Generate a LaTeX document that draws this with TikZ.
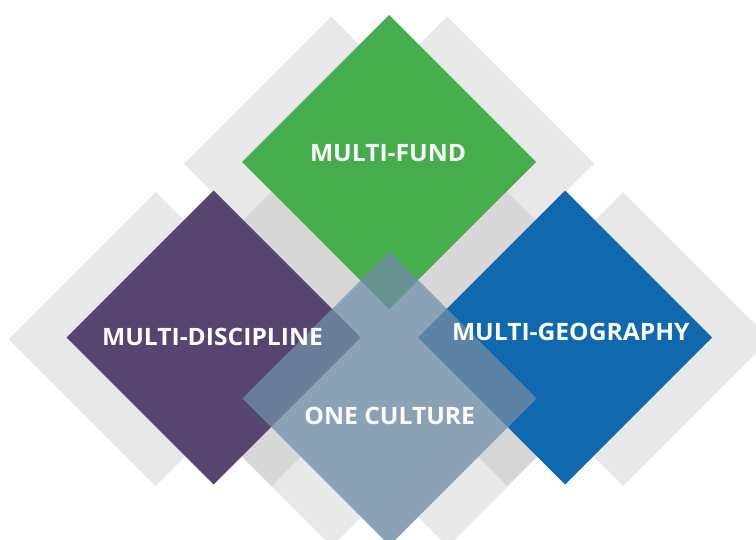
\documentclass[tikz,border=0pt]{standalone}
\usepackage{fontspec}
\setmainfont{Open Sans}
\newfontfamily\labelfont[FakeStretch=1.03]{Open Sans}
\definecolor{fundgreen}{HTML}{45AD4C}
\definecolor{discpurple}{HTML}{56456F}
\definecolor{geoblue}{HTML}{1068AF}
\definecolor{cultureblue}{RGB}{110,138,163}
\definecolor{ghostlight}{HTML}{E8E8E8}
\definecolor{ghostdark}{HTML}{D7D7D7}
% outline of a square tile standing on its corner: centre (#1,#2), half-diagonal 147
\newcommand{\tileoutline}[2]{(#1,#2-147) -- (#1+147,#2) -- (#1,#2+147) -- (#1-147,#2) -- cycle}
\newcommand{\tile}[3]{\fill[#3] \tileoutline{#1}{#2};}
% centres of the grey ghosts (each tile has one 58 units to either side)
\newcommand{\ghostlist}{331/163.5, 447/163.5, 155.5/339, 271.5/339, 507/339, 623/339, 331.5/399.5, 447.5/399.5}
\tikzset{
  tilelabel/.style={text=white, font=\labelfont\fontsize{24}{27}\selectfont\bfseries, inner sep=0pt, anchor=center},
}
\begin{document}
\begin{tikzpicture}[x=1bp, y=-1bp]
\useasboundingbox (0,0) rectangle (756,540);
\fill[white] (0,0) rectangle (756,540);
% grey ghost tiles
\foreach \gx/\gy in \ghostlist { \tile{\gx}{\gy}{ghostlight} }
% where two ghosts overlap the grey is deeper
\foreach \ax/\ay [count=\i] in \ghostlist {
  \foreach \bx/\by [count=\j] in \ghostlist {
    \ifnum\j>\i\relax
      \begin{scope}
        \clip \tileoutline{\ax}{\ay};
        \tile{\bx}{\by}{ghostdark}
      \end{scope}
    \fi
  }
}
% the culture tile hides the ghosts beneath it
\tile{389.5}{398.5}{white}
% coloured tiles
\tile{389}{162}{fundgreen}
\tile{213.5}{337.5}{discpurple}
\tile{565}{337.5}{geoblue}
\tile{389.5}{398.5}{cultureblue, fill opacity=0.8}
% labels
\node[tilelabel] (fund) at (388,153.5) {MULTI-FUND};
\node[tilelabel] (discipline) at (212.5,336.7) {MULTI-DISCIPLINE};
\node[tilelabel] (geography) at (570.8,332) {MULTI-GEOGRAPHY};
\node[tilelabel] (culture) at (389.7,416.3) {ONE CULTURE};
\end{tikzpicture}
\end{document}
